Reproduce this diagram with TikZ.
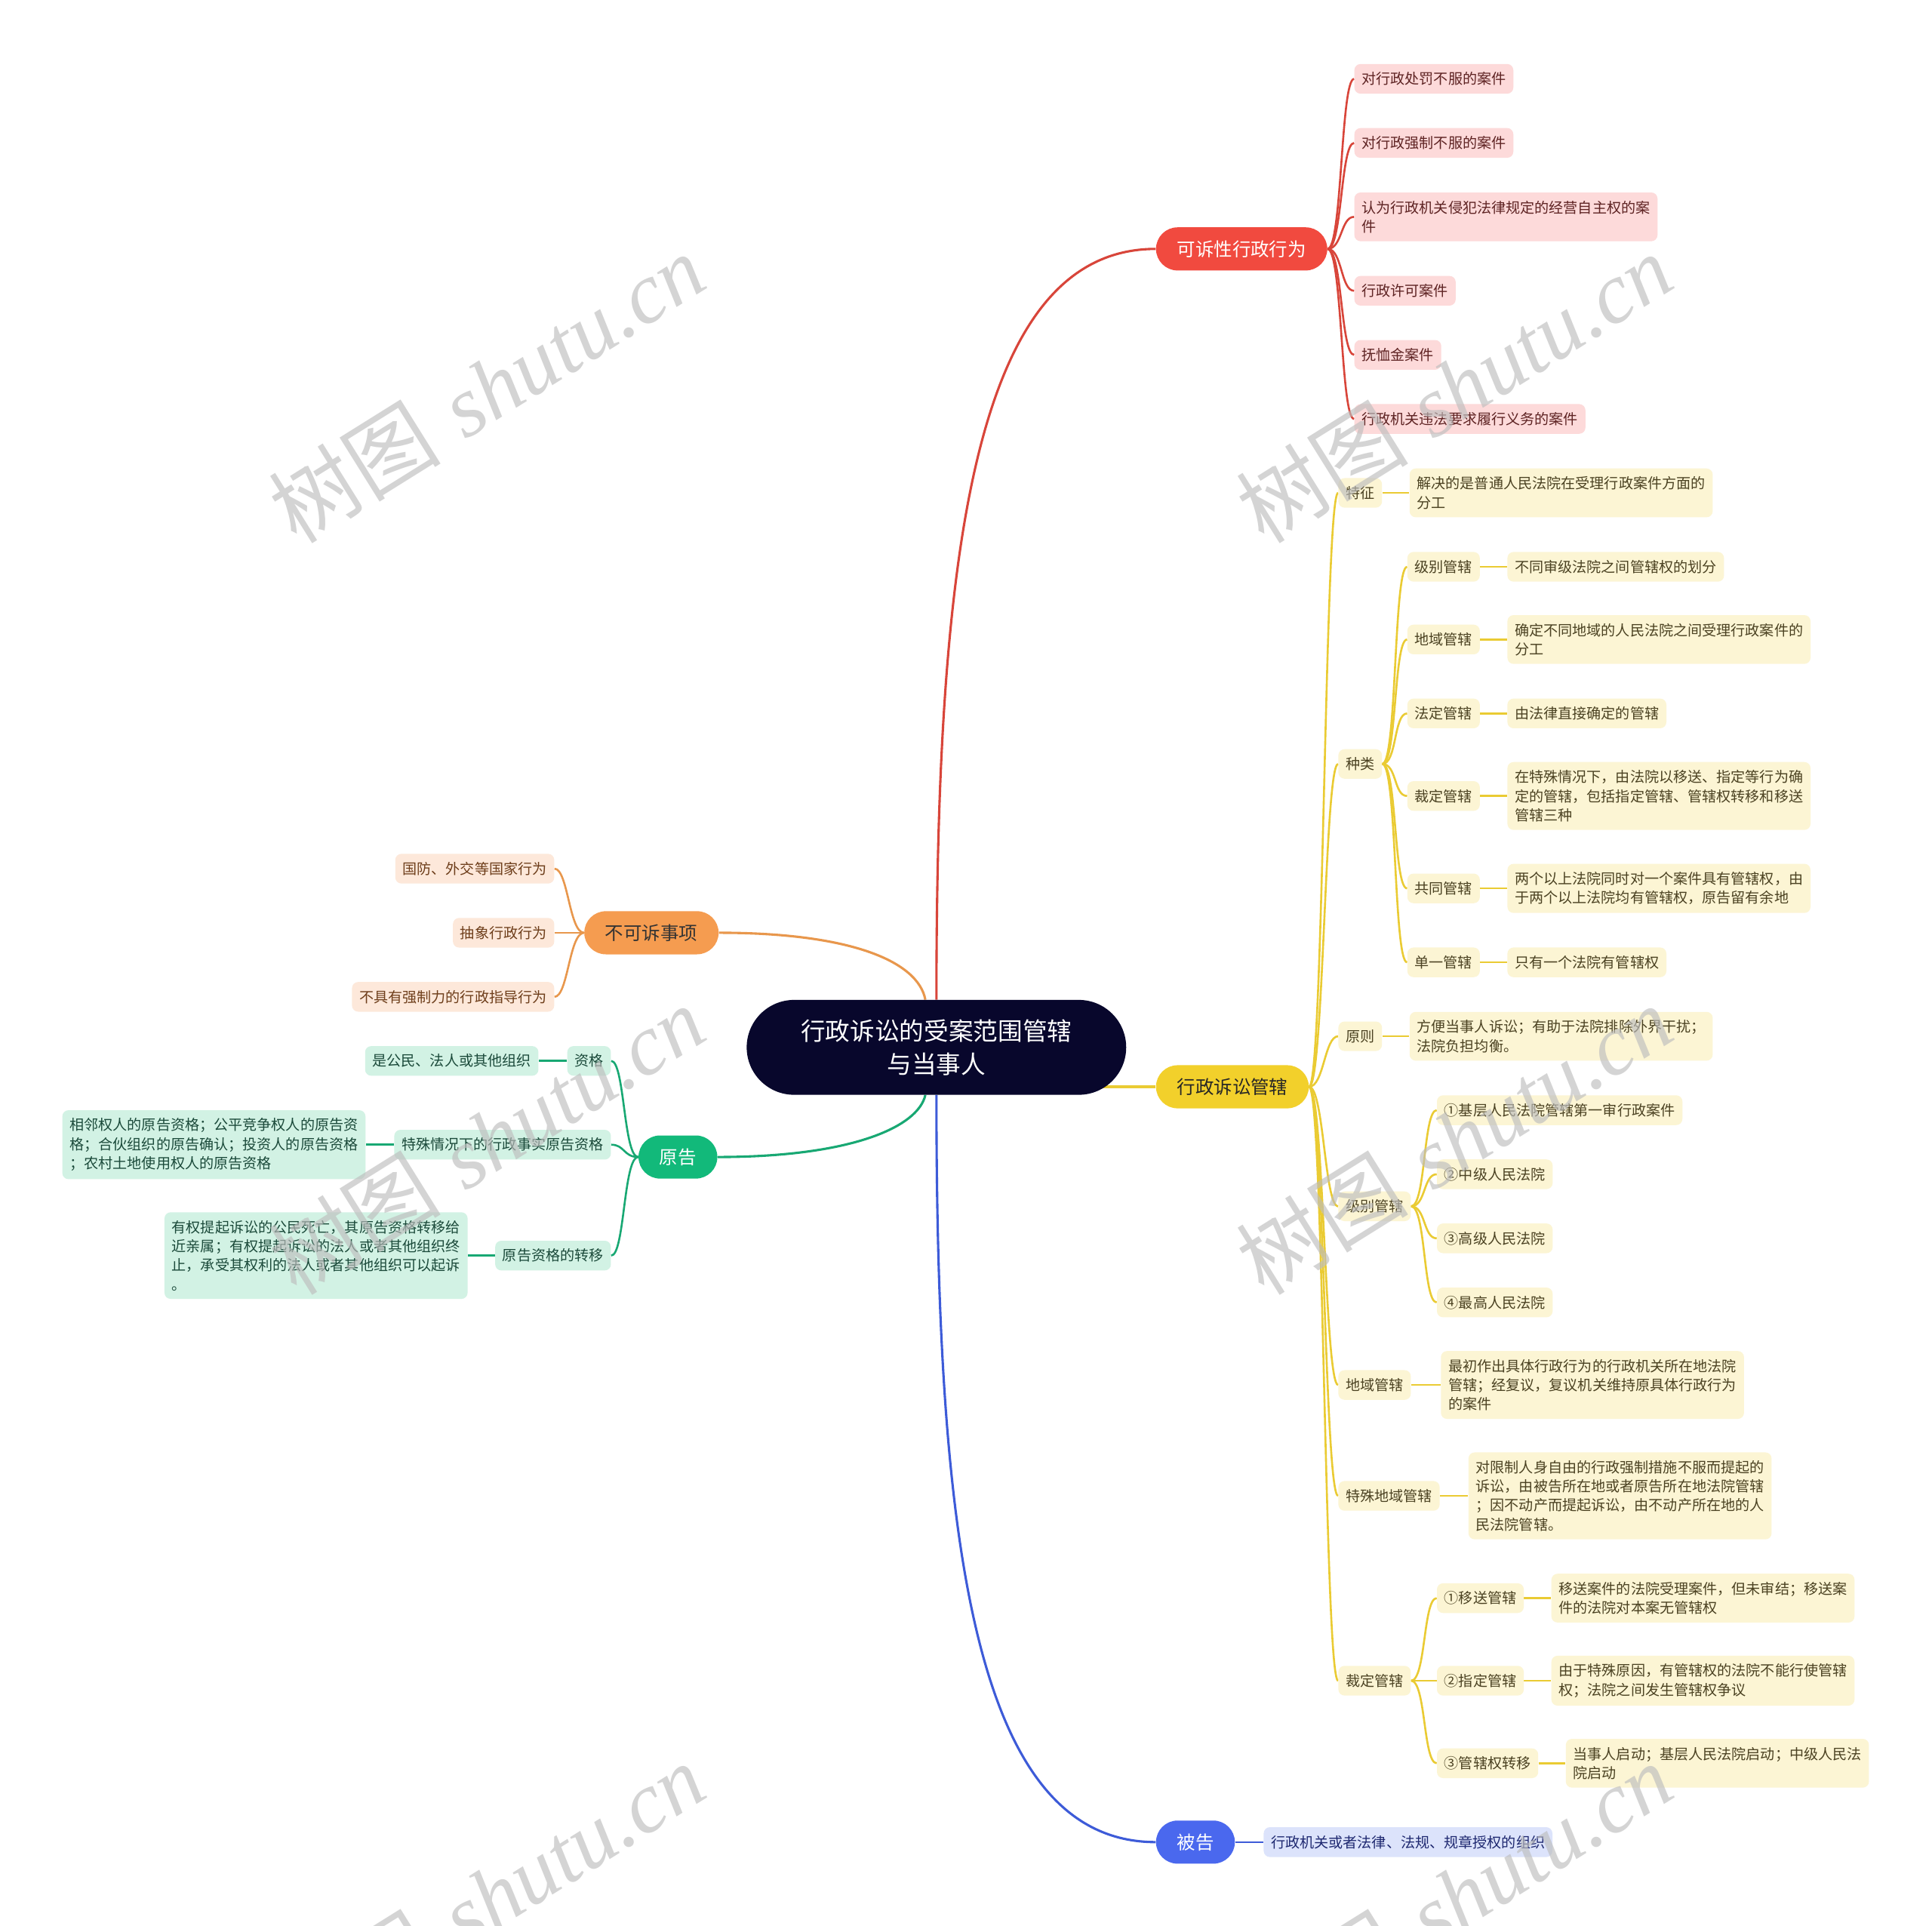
\documentclass[tikz,border=0pt]{standalone}
\usepackage{fontspec}
\newfontfamily\cjk{Noto Sans CJK SC}
\newfontfamily\wmserif{Liberation Serif}
\usetikzlibrary{positioning,backgrounds}
\definecolor{cnavy}{HTML}{08072C}
\definecolor{cred}{HTML}{F14A3F}
\definecolor{redline}{HTML}{D8453A}
\definecolor{redleaf}{HTML}{FDDADA}
\definecolor{redtext}{HTML}{5E2323}
\definecolor{cyel}{HTML}{F2D02B}
\definecolor{yelline}{HTML}{EACB33}
\definecolor{yelleaf}{HTML}{FCF5D4}
\definecolor{yeltext}{HTML}{4B4222}
\definecolor{cblue}{HTML}{4A68EE}
\definecolor{blueline}{HTML}{3D5BD8}
\definecolor{blueleaf}{HTML}{DCE3FB}
\definecolor{bluetext}{HTML}{1E2870}
\definecolor{corange}{HTML}{F59C50}
\definecolor{oraline}{HTML}{E8974C}
\definecolor{oraleaf}{HTML}{FDE8DA}
\definecolor{oratext}{HTML}{6E3E1B}
\definecolor{cgreen}{HTML}{12B97A}
\definecolor{grnline}{HTML}{18A873}
\definecolor{grnleaf}{HTML}{D2F2E4}
\definecolor{grntext}{HTML}{1B4A3A}
\definecolor{wmgray}{HTML}{BDBDBD}
\newcommand\conR[3]{\draw[#1] (#2.east) .. controls ([xshift=12pt]#2.east) and ([xshift=-11pt]#3.west) .. (#3.west);}
\newcommand\conL[3]{\draw[#1] (#2.west) .. controls ([xshift=-12pt]#2.west) and ([xshift=11pt]#3.east) .. (#3.east);}
\begin{document}
\begin{tikzpicture}[x=1pt,y=-1pt,
  leaf/.style={font=\cjk\fontsize{11.7}{15.5}\selectfont, align=left, inner xsep=6pt, inner ysep=6.6pt, rounded corners=5pt},
  rleaf/.style={leaf, fill=redleaf, text=redtext},
  yleaf/.style={leaf, fill=yelleaf, text=yeltext},
  bleaf/.style={leaf, fill=blueleaf, text=bluetext},
  oleaf/.style={leaf, fill=oraleaf, text=oratext},
  gleaf/.style={leaf, fill=grnleaf, text=grntext},
  mainpill/.style={font=\cjk\fontsize{15}{18}\selectfont, inner xsep=17pt, inner ysep=0pt, minimum height=35pt, rounded corners=17.5pt},
  mainline/.style={line width=1.9pt},
  subline/.style={line width=1.6pt},
  wm/.style={rotate=32, text=wmgray, opacity=0.65, font=\fontsize{70}{80}\selectfont, inner sep=0pt}
]
\useasboundingbox (0,0) rectangle (1568,1563);

% center
\node[fill=cnavy, text=white, font=\cjk\fontsize{20}{27}\selectfont, align=center, inner xsep=44pt, inner ysep=14pt, minimum height=77pt, rounded corners=38.5pt] (c) at (760,850) {行政诉讼的受案范围管辖\\与当事人};

% main branches
\node[mainpill, fill=cred, text=white, anchor=west] (kp) at (938,202) {可诉性行政行为};
\node[mainpill, fill=cyel, text=black!85, anchor=west] (gz) at (938,882) {行政诉讼管辖};
\node[mainpill, fill=cblue, text=white, anchor=west] (bg) at (938,1495) {被告};
\node[mainpill, fill=corange, text=black!80, anchor=west] (bk) at (474,757) {不可诉事项};
\node[mainpill, fill=cgreen, text=white, anchor=west] (yg) at (518,939) {原告};

% red children
\node[rleaf, anchor=west] (r1) at (1099,64) {对行政处罚不服的案件};
\node[rleaf, anchor=west] (r2) at (1099,116) {对行政强制不服的案件};
\node[rleaf, anchor=west] (r3) at (1099,176) {认为行政机关侵犯法律规定的经营自主权的案\\件};
\node[rleaf, anchor=west] (r4) at (1099,236) {行政许可案件};
\node[rleaf, anchor=west] (r5) at (1099,288) {抚恤金案件};
\node[rleaf, anchor=west] (r6) at (1099,340) {行政机关违法要求履行义务的案件};

% yellow level 2
\node[yleaf, anchor=west] (y1) at (1086,400) {特征};
\node[yleaf, right=22pt of y1] (y1l) {解决的是普通人民法院在受理行政案件方面的\\分工};
\node[yleaf, anchor=west] (y2) at (1086,620) {种类};
\node[yleaf, anchor=west] (k1) at (1142,460) {级别管辖};
\node[yleaf, right=22pt of k1] (k1l) {不同审级法院之间管辖权的划分};
\node[yleaf, anchor=west] (k2) at (1142,519) {地域管辖};
\node[yleaf, right=22pt of k2] (k2l) {确定不同地域的人民法院之间受理行政案件的\\分工};
\node[yleaf, anchor=west] (k3) at (1142,579) {法定管辖};
\node[yleaf, right=22pt of k3] (k3l) {由法律直接确定的管辖};
\node[yleaf, anchor=west] (k4) at (1142,646) {裁定管辖};
\node[yleaf, right=22pt of k4] (k4l) {在特殊情况下，由法院以移送、指定等行为确\\定的管辖，包括指定管辖、管辖权转移和移送\\管辖三种};
\node[yleaf, anchor=west] (k5) at (1142,721) {共同管辖};
\node[yleaf, right=22pt of k5] (k5l) {两个以上法院同时对一个案件具有管辖权，由\\于两个以上法院均有管辖权，原告留有余地};
\node[yleaf, anchor=west] (k6) at (1142,781) {单一管辖};
\node[yleaf, right=22pt of k6] (k6l) {只有一个法院有管辖权};
\node[yleaf, anchor=west] (y3) at (1086,841) {原则};
\node[yleaf, right=22pt of y3] (y3l) {方便当事人诉讼；有助于法院排除外界干扰；\\法院负担均衡。};
\node[yleaf, anchor=west] (y4) at (1086,979) {级别管辖};
\node[yleaf, anchor=west] (j1) at (1166,901) {①基层人民法院管辖第一审行政案件};
\node[yleaf, anchor=west] (j2) at (1166,953) {②中级人民法院};
\node[yleaf, anchor=west] (j3) at (1166,1005) {③高级人民法院};
\node[yleaf, anchor=west] (j4) at (1166,1057) {④最高人民法院};
\node[yleaf, anchor=west] (y5) at (1086,1124) {地域管辖};
\node[yleaf, right=24pt of y5] (y5l) {最初作出具体行政行为的行政机关所在地法院\\管辖；经复议，复议机关维持原具体行政行为\\的案件};
\node[yleaf, anchor=west] (y6) at (1086,1214) {特殊地域管辖};
\node[yleaf, right=23pt of y6] (y6l) {对限制人身自由的行政强制措施不服而提起的\\诉讼，由被告所在地或者原告所在地法院管辖\\；因不动产而提起诉讼，由不动产所在地的人\\民法院管辖。};
\node[yleaf, anchor=west] (y7) at (1086,1364) {裁定管辖};
\node[yleaf, anchor=west] (d1) at (1166,1297) {①移送管辖};
\node[yleaf, right=22pt of d1] (d1l) {移送案件的法院受理案件，但未审结；移送案\\件的法院对本案无管辖权};
\node[yleaf, anchor=west] (d2) at (1166,1364) {②指定管辖};
\node[yleaf, right=22pt of d2] (d2l) {由于特殊原因，有管辖权的法院不能行使管辖\\权；法院之间发生管辖权争议};
\node[yleaf, anchor=west] (d3) at (1166,1431) {③管辖权转移};
\node[yleaf, right=22pt of d3] (d3l) {当事人启动；基层人民法院启动；中级人民法\\院启动};

% blue
\node[bleaf, right=23pt of bg] (bgl) {行政机关或者法律、法规、规章授权的组织};

% orange
\node[oleaf, anchor=east] (o1) at (450,705) {国防、外交等国家行为};
\node[oleaf, anchor=east] (o2) at (450,757) {抽象行政行为};
\node[oleaf, anchor=east] (o3) at (450,809) {不具有强制力的行政指导行为};

% green
\node[gleaf, anchor=east] (g1) at (496,861) {资格};
\node[gleaf, left=23pt of g1] (g1l) {是公民、法人或其他组织};
\node[gleaf, anchor=east] (g2) at (496,929) {特殊情况下的行政事实原告资格};
\node[gleaf, left=23pt of g2] (g2l) {相邻权人的原告资格；公平竞争权人的原告资\\格；合伙组织的原告确认；投资人的原告资格\\；农村土地使用权人的原告资格};
\node[gleaf, anchor=east] (g3) at (496,1019) {原告资格的转移};
\node[gleaf, left=22pt of g3] (g3l) {有权提起诉讼的公民死亡，其原告资格转移给\\近亲属；有权提起诉讼的法人或者其他组织终\\止，承受其权利的法人或者其他组织可以起诉\\。};

\begin{pgfonlayer}{background}
\fill[white] (0,0) rectangle (1568,1563);
% main connectors
\draw[mainline, redline] (c.north) .. controls (760,450) and (790,202) .. (kp.west);
\draw[mainline, yelline] (gz.west) -- (c.center |- gz.west);
\draw[mainline, blueline] (c.south) .. controls (760,1250) and (790,1495) .. (bg.west);
\draw[mainline, oraline] (bk.east) .. controls (690,757) and (745,780) .. ([xshift=-9pt]c.north);
\draw[mainline, grnline] (yg.east) .. controls (690,939) and (745,915) .. ([xshift=-9pt]c.south);
% red
\foreach \n in {r1,r2,r3,r4,r5,r6} {\conR{subline, redline}{kp}{\n}}
% yellow
\foreach \n in {y1,y2,y3,y4,y5,y6,y7} {\conR{subline, yelline}{gz}{\n}}
\foreach \n in {k1,k2,k3,k4,k5,k6} {\conR{subline, yelline}{y2}{\n}}
\foreach \n in {j1,j2,j3,j4} {\conR{subline, yelline}{y4}{\n}}
\foreach \n in {d1,d2,d3} {\conR{subline, yelline}{y7}{\n}}
\foreach \a/\b in {y1/y1l,k1/k1l,k2/k2l,k3/k3l,k4/k4l,k5/k5l,k6/k6l,y3/y3l,y5/y5l,y6/y6l,d1/d1l,d2/d2l,d3/d3l} {\draw[subline, yelline] (\a.east) -- (\b.west);}
% blue
\draw[subline, blueline] (bg.east) -- (bgl.west);
% orange
\foreach \n in {o1,o2,o3} {\conL{subline, oraline}{bk}{\n}}
% green
\foreach \n in {g1,g2,g3} {\conL{subline, grnline}{yg}{\n}}
\foreach \a/\b in {g1/g1l,g2/g2l,g3/g3l} {\draw[subline, grnline] (\a.west) -- (\b.east);}
\end{pgfonlayer}

% watermarks
\foreach \wx/\wy [count=\i] in {395/315,1180/315,395/925,1180/925,395/1540,1180/1540} {
  \node[wm] (wm\i) at (\wx,\wy) {{\cjk 树图} {\wmserif\itshape shutu.cn}};
}
\end{tikzpicture}
\end{document}
